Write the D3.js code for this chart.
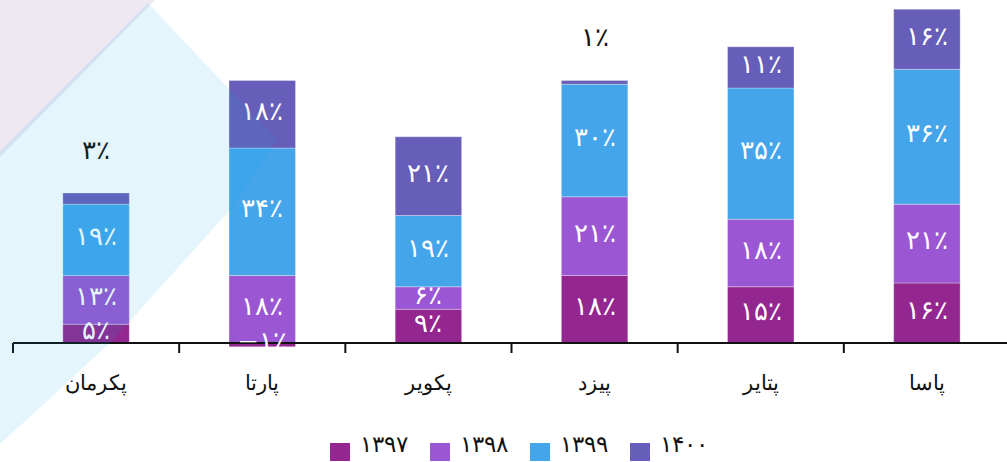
<!DOCTYPE html>
<html>
<head>
<meta charset="utf-8">
<script src="https://cdn.jsdelivr.net/npm/d3@7"></script>
<style>
  html, body { margin: 0; padding: 0; background: #ffffff; }
  svg { display: block; }
  text { font-family: "DejaVu Sans", sans-serif; }
</style>
</head>
<body>
<svg id="chart" width="1007" height="462"></svg>
<script>
// ---- Data ----
const categories = ["پکرمان", "پارتا", "پکویر", "پیزد", "پتایر", "پاسا"];
const seriesKeys = ["1397", "1398", "1399", "1400"];
const seriesLabels = ["۱۳۹۷", "۱۳۹۸", "۱۳۹۹", "۱۴۰۰"];
const values1397 = [5, -1, 9, 18, 15, 16];
const values1398 = [13, 18, 6, 21, 18, 21];
const values1399 = [19, 34, 19, 30, 35, 36];
const values1400 = [3, 18, 21, 1, 11, 16];
const seriesColors = ["#93278F", "#9B57D3", "#45A5EB", "#665EB8"];

const seriesValues = [values1397, values1398, values1399, values1400];
const table = categories.map((c, i) => {
  const row = { category: c };
  seriesKeys.forEach((k, j) => row[k] = seriesValues[j][i]);
  return row;
});

const faDigits = "۰۱۲۳۴۵۶۷۸۹";
const fa = n => String(n).replace(/\d/g, d => faDigits[+d]).replace("-", "−");
const pct = n => fa(n) + "٪";

const svg = d3.select("#chart");
const W = 1007, H = 462;

// ---- Background decoration ----
const bg = svg.append("g");
bg.append("path")
  .attr("d", "M0,0 L155,0 L0,157 Z")
  .attr("fill", "#EEE8F3");

// ---- Scales ----
const x = d3.scaleBand().domain(categories).range([13, 1010]).paddingInner(0.6).paddingOuter(0.3);
const y = d3.scaleLinear().domain([0, 90]).range([343, 343 - 90 * 3.75]);

const stack = d3.stack().keys(seriesKeys).offset(d3.stackOffsetDiverging);
const stacked = stack(table);

const color = d3.scaleOrdinal().domain(seriesKeys).range(seriesColors);

// ---- Bars ----
const gBars = svg.append("g");
const layers = gBars.selectAll("g.layer").data(stacked).join("g")
  .attr("class", "layer")
  .attr("fill", d => color(d.key));
layers.selectAll("rect").data(d => d).join("rect")
  .attr("x", d => x(d.data.category))
  .attr("width", x.bandwidth())
  .attr("y", d => y(Math.max(d[0], d[1])))
  .attr("height", d => Math.abs(y(d[0]) - y(d[1])))
  .attr("stroke", "rgba(255,255,255,0.3)")
  .attr("stroke-width", 1);

// ---- Axis ----
const step = x.step();
const boundaries = categories.map(c => x(c) - (step - x.bandwidth()) / 2);
boundaries.push(boundaries[boundaries.length - 1] + step);
const gAxis = svg.append("g");
gAxis.append("line")
  .attr("x1", boundaries[0]).attr("x2", W)
  .attr("y1", y(0)).attr("y2", y(0))
  .attr("stroke", "#111").attr("stroke-width", 2);
gAxis.selectAll("line.tick").data(boundaries).join("line")
  .attr("class", "tick")
  .attr("x1", d => d).attr("x2", d => d)
  .attr("y1", y(0)).attr("y2", y(0) + 10)
  .attr("stroke", "#111").attr("stroke-width", 2);
gAxis.selectAll("text.cat").data(categories).join("text")
  .attr("class", "cat")
  .attr("x", d => x(d) + x.bandwidth() / 2)
  .attr("y", 384)
  .attr("text-anchor", "middle")
  .attr("dominant-baseline", "middle")
  .attr("font-size", 21)
  .attr("font-weight", 300)
  .attr("fill", "#111")
  .text(d => d);

// ---- Segment labels ----
const allPts = stacked.flatMap(layer => layer.map(p => ({
  key: layer.key, cat: p.data.category, v: p.data[layer.key], y0: p[0], y1: p[1]
})));
const outside = d => d.v > 0 && d.v < 4;
const gLab = svg.append("g");
gLab.selectAll("text").data(allPts).join("text")
  .attr("x", d => x(d.cat) + x.bandwidth() / 2)
  .attr("y", d => outside(d) ? y(d.y1) - 42 : (y(d.y0) + y(d.y1)) / 2 - 2)
  .attr("text-anchor", "middle")
  .attr("dominant-baseline", "middle")
  .attr("direction", "ltr")
  .attr("font-size", 26)
  .attr("font-weight", 200)
  .attr("fill", d => outside(d) ? "#111" : "#ffffff")
  .text(d => pct(d.v));

// ---- Legend ----
const gLeg = svg.append("g");
const items = gLeg.selectAll("g").data(seriesKeys).join("g")
  .attr("transform", (d, i) => `translate(${330 + i * 100},443)`);
items.append("rect").attr("width", 20).attr("height", 18).attr("fill", d => color(d));
items.append("text")
  .attr("x", 30).attr("y", 2)
  .attr("dominant-baseline", "middle")
  .attr("direction", "ltr")
  .attr("font-size", 23)
  .attr("font-weight", 200)
  .attr("fill", "#111")
  .text((d, i) => seriesLabels[i]);

// ---- Foreground translucent decoration (cyan) ----
svg.append("path")
  .attr("d", "M148,3 L277,140 C255,172 240,196 230,210 L113,340 C75,375 38,410 0,444 L0,151 Z")
  .attr("fill", "#00A8E0")
  .attr("fill-opacity", 0.105)
  .attr("pointer-events", "none");
</script>
</body>
</html>
